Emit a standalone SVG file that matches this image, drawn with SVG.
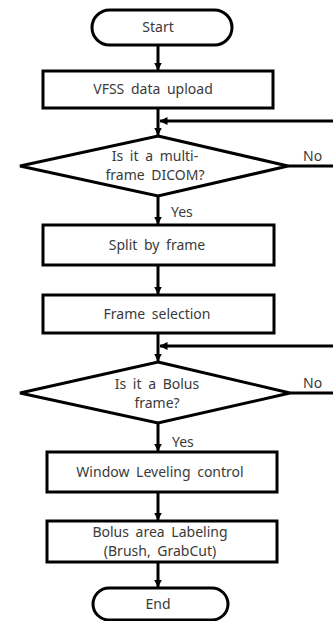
<svg xmlns="http://www.w3.org/2000/svg" width="333" height="621" viewBox="0 0 333 621">
<defs>
<style>
.shape{fill:#fff;stroke:#000;stroke-width:3}
.line{fill:none;stroke:#000;stroke-width:3}
text{font-family:"Noto Sans","Liberation Sans",sans-serif;font-size:14px;fill:#3a3a3a;text-anchor:middle;word-spacing:3px}
.lbl{text-anchor:start}
</style>
<marker id="ah" markerWidth="8" markerHeight="8" viewBox="0 0 8 8" refX="7.5" refY="4" orient="auto" markerUnits="userSpaceOnUse">
<path d="M0,0 L8,4 L0,8 Z" fill="#000"/>
</marker>
</defs>
<rect width="333" height="621" fill="#fff"/>
<g id="connectors">
<line class="line" x1="158" y1="45" x2="158" y2="70" marker-end="url(#ah)"/>
<line class="line" x1="158" y1="108" x2="158" y2="135" marker-end="url(#ah)"/>
<line class="line" x1="333" y1="121" x2="160" y2="121" marker-end="url(#ah)"/>
<line class="line" x1="288" y1="166" x2="333" y2="166"/>
<line class="line" x1="158" y1="196" x2="158" y2="224" marker-end="url(#ah)"/>
<line class="line" x1="158" y1="265" x2="158" y2="294" marker-end="url(#ah)"/>
<line class="line" x1="158" y1="333" x2="158" y2="361" marker-end="url(#ah)"/>
<line class="line" x1="333" y1="346" x2="160" y2="346" marker-end="url(#ah)"/>
<line class="line" x1="290" y1="393" x2="333" y2="393"/>
<line class="line" x1="158" y1="423" x2="158" y2="451" marker-end="url(#ah)"/>
<line class="line" x1="158" y1="492" x2="158" y2="520" marker-end="url(#ah)"/>
<line class="line" x1="158" y1="562" x2="158" y2="587" marker-end="url(#ah)"/>
<text class="lbl" x="303" y="161">No</text>
<text class="lbl" x="171" y="217">Yes</text>
<text class="lbl" x="303" y="388">No</text>
<text class="lbl" x="172" y="447">Yes</text>
</g>
<g id="start">
<rect class="shape" x="92" y="10" width="140" height="35" rx="17.5"/>
<text x="158" y="32">Start</text>
</g>
<g id="upload">
<rect class="shape" x="43" y="71" width="230" height="37"/>
<text x="153" y="94">VFSS data upload</text>
</g>
<g id="multiframe">
<polygon class="shape" points="158,136 288,166 158,196 20,166"/>
<text x="155" y="161">Is it a multi-</text>
<text x="155" y="180">frame DICOM?</text>
</g>
<g id="split">
<rect class="shape" x="43" y="225" width="231" height="40"/>
<text x="157" y="250">Split by frame</text>
</g>
<g id="selection">
<rect class="shape" x="43" y="295" width="231" height="38"/>
<text x="157" y="319">Frame selection</text>
</g>
<g id="bolusframe">
<polygon class="shape" points="158,362 290,393 158,423 20,393"/>
<text x="157" y="389">Is it a Bolus</text>
<text x="157" y="408">frame?</text>
</g>
<g id="window">
<rect class="shape" x="47" y="452" width="230" height="40"/>
<text x="160" y="477">Window Leveling control</text>
</g>
<g id="labeling">
<rect class="shape" x="47" y="521" width="230" height="41"/>
<text x="160" y="537">Bolus area Labeling</text>
<text x="160" y="556">(Brush, GrabCut)</text>
</g>
<g id="end">
<rect class="shape" x="93" y="588" width="135" height="32" rx="16"/>
<text x="158" y="609">End</text>
</g>
</svg>
